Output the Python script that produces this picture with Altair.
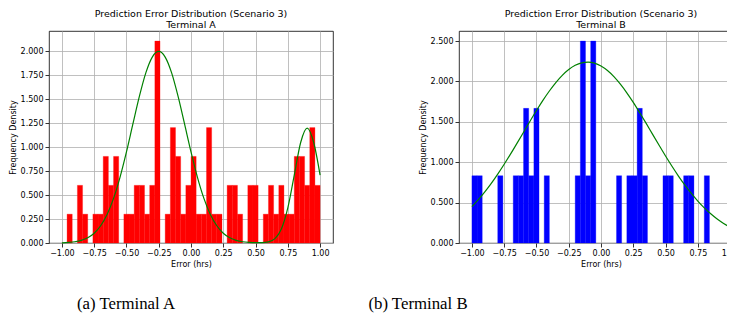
import altair as alt
import pandas as pd
import numpy as np

# ---------------- data ----------------
bin_edges = np.round(np.linspace(-1.0, 1.0, 51), 2)

density_a = [0, 0.301, 0, 0.602, 0.301, 0, 0.301, 0.301, 0.904, 0.602,
             0.904, 0, 0.301, 0.301, 0.602, 0.602, 0.301, 0.602, 2.108, 0,
             0.301, 1.205, 0.904, 0.301, 0.602, 0.904, 0.301, 0.301, 1.205, 0.301,
             0.301, 0, 0.602, 0.602, 0.301, 0, 0.602, 0.602, 0, 0.301,
             0.602, 0.301, 0.602, 0.301, 0.301, 0.904, 0.904, 0.602, 1.205, 0.602]

density_b = [0.833, 0.833, 0, 0, 0, 0.833, 0, 0, 0.833, 0.833,
             1.667, 0.833, 1.667, 0, 0.833, 0, 0, 0, 0, 0,
             0.833, 2.5, 0.833, 2.5, 0, 0, 0, 0, 0.833, 0,
             0.833, 0.833, 1.667, 0.833, 0, 0, 0, 0.833, 0.833, 0,
             0, 0.833, 0.833, 0, 0, 0.833, 0, 0, 0, 0]

curve_x = [-1.00, -0.95, -0.90, -0.85, -0.80, -0.75, -0.70, -0.65, -0.60, -0.55,
           -0.50, -0.45, -0.40, -0.35, -0.30, -0.25, -0.20, -0.15, -0.10, -0.05,
           0.00, 0.05, 0.10, 0.15, 0.20, 0.25, 0.30, 0.35, 0.40, 0.45,
           0.50, 0.55, 0.60, 0.65, 0.70, 0.75, 0.80, 0.85, 0.90, 0.95, 1.00]

curve_a = [0.002, 0.006, 0.013, 0.028, 0.055, 0.102, 0.180, 0.298, 0.466, 0.686,
           0.951, 1.243, 1.530, 1.776, 1.941, 2.000, 1.941, 1.776, 1.530, 1.243,
           0.951, 0.686, 0.466, 0.298, 0.180, 0.102, 0.055, 0.028, 0.013, 0.006,
           0.003, 0.003, 0.011, 0.045, 0.146, 0.367, 0.709, 1.052, 1.200, 1.052, 0.709]

curve_b = [0.451, 0.537, 0.633, 0.738, 0.853, 0.975, 1.103, 1.237, 1.372, 1.508,
           1.640, 1.766, 1.882, 1.987, 2.076, 2.148, 2.200, 2.231, 2.240, 2.227,
           2.191, 2.135, 2.060, 1.967, 1.860, 1.741, 1.613, 1.481, 1.345, 1.210,
           1.077, 0.950, 0.829, 0.716, 0.613, 0.519, 0.435, 0.362, 0.297, 0.242, 0.195]

x_ticks = [-1.0, -0.75, -0.5, -0.25, 0.0, 0.25, 0.5, 0.75, 1.0]
y_ticks_a = [0, 0.25, 0.5, 0.75, 1.0, 1.25, 1.5, 1.75, 2.0]
y_ticks_b = [0, 0.5, 1.0, 1.5, 2.0, 2.5]

title_line1 = "Prediction Error Distribution (Scenario 3)"
terminals = ["Terminal A", "Terminal B"]
captions = ["(a) Terminal A", "(b) Terminal B"]

W, H = 284, 212
FONT = "DejaVu Sans"


def panel(dens, curve, color, ymax, yticks, term, caption, cap_x):
    bars = pd.DataFrame({"x0": bin_edges[:-1], "x1": bin_edges[1:],
                         "d": dens, "z": 0.0})
    bars = bars[bars["d"] > 0]
    line = pd.DataFrame({"x0": curve_x, "d": curve})
    cap = pd.DataFrame({"t": [caption]})

    xs = alt.Scale(domain=[-1.1, 1.1], nice=False, zero=False)
    ys = alt.Scale(domain=[0, ymax], nice=False, zero=False)
    xaxis = alt.Axis(values=x_ticks, format=".2f", title="Error (hrs)",
                     labelOverlap=False, tickCount=9)
    yaxis = alt.Axis(values=yticks, format=".3f", title="Frequency Density",
                     labelOverlap=False, tickCount=len(yticks))
    xenc = alt.X("x0:Q", scale=xs, axis=xaxis)
    yenc = alt.Y("d:Q", scale=ys, axis=yaxis)

    b = alt.Chart(bars).mark_rect(color=color, stroke=color, strokeWidth=0.3).encode(
        x=xenc, x2="x1:Q", y=yenc, y2="z:Q",
    )
    l = alt.Chart(line).mark_line(color="#008000", strokeWidth=1.2,
                                  interpolate="monotone").encode(
        x=xenc, y=yenc)
    c = alt.Chart(cap).mark_text(font="Liberation Serif", fontSize=16.8,
                                 align="center", baseline="alphabetic",
                                 color="black").encode(
        x=alt.value(cap_x), y=alt.value(H + 66), text="t:N")
    return alt.layer(b, l, c).properties(
        width=W, height=H,
        title=alt.TitleParams([title_line1, term], fontSize=9.5, font=FONT,
                              fontWeight="normal", lineHeight=11, offset=2,
                              color="black", frame="group", anchor="middle"),
    )


pa = panel(density_a, curve_a, "#ff0000", 2.2134, y_ticks_a, terminals[0], captions[0], 77)
pb = panel(density_b, curve_b, "#0000ff", 2.625, y_ticks_b, terminals[1], captions[1], -41)

chart = alt.hconcat(pa, pb, spacing=126, bounds="flush").properties(
    padding={"left": 0, "top": 0, "right": -17, "bottom": -1}
).configure_view(
    stroke="black", strokeWidth=0.8
).configure_axis(
    labelFont=FONT, labelFontSize=8, labelColor="black",
    titleFont=FONT, titleFontSize=8, titleFontWeight="normal", titleColor="black",
    tickColor="black", tickSize=4, tickWidth=0.8,
    domain=False, grid=True, gridColor="#b0b0b0", gridWidth=0.8,
    labelPadding=2, titlePadding=3, zindex=1,
)

chart.save("out.html", embed_options={"renderer": "svg", "actions": False})
